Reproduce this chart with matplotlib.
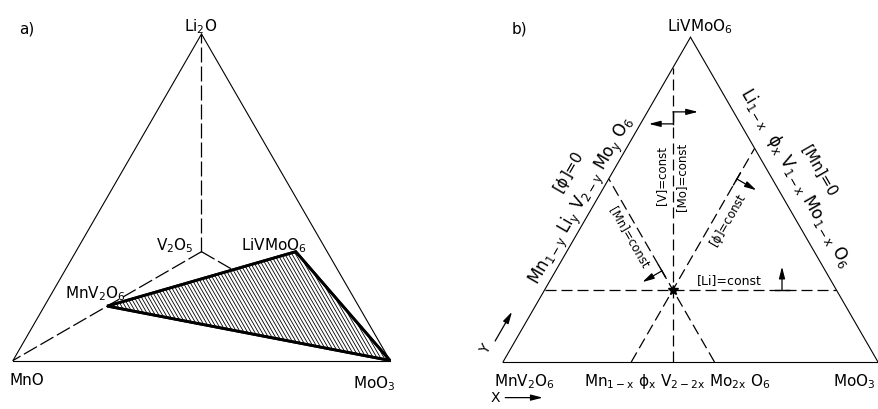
import numpy as np
import matplotlib
matplotlib.use('Agg')
import matplotlib.pyplot as plt
from matplotlib.patches import Polygon
from matplotlib.collections import LineCollection

plt.rcParams['font.family'] = 'DejaVu Sans'
plt.rcParams['mathtext.default'] = 'regular'

# ---- panel a: Li2O-MnO-MoO3-V2O5 tetrahedron seen from above ----
# projected corners, order [Li2O, MnO, MoO3, V2O5]; V2O5 is the back corner
corner_x = [0.5, 0.0, 1.0, 0.5]
corner_y = [np.sqrt(3) / 2, 0.0, 0.0, np.sqrt(3) / 6]

# compositions as mole fractions of [Li2O, MnO, MoO3, V2O5]
li2o = [1.0, 0.0, 0.0, 0.0]
mno = [0.0, 1.0, 0.0, 0.0]
moo3 = [0.0, 0.0, 1.0, 0.0]
v2o5 = [0.0, 0.0, 0.0, 1.0]
mnv2o6 = [0.0, 0.5, 0.0, 0.5]
livmoo6 = [0.25, 0.0, 0.5, 0.25]

# ---- panel b: MnV2O6-MoO3-LiVMoO6 section ----
# fractions [MnV2O6, MoO3, LiVMoO6] of the point where the const lines cross
point = [0.436, 0.342, 0.222]

LW_EDGE = 0.8
DASH_A = (0, (12, 3.2))
DASH_B = (0, (8.8, 4))
FS = 11


def proj(w):
    return np.dot(w, corner_x), np.dot(w, corner_y)


def tern(w):
    # w = [MnV2O6, MoO3, LiVMoO6]
    return w[1] + w[2] / 2, w[2] * np.sqrt(3) / 2


def seg(ax, p, q, **kw):
    ax.plot([p[0], q[0]], [p[1], q[1]], color='black', **kw)


def arrow(ax, start, d, length):
    end = (start[0] + d[0] * length, start[1] + d[1] * length)
    ax.annotate('', xy=end, xytext=start,
                arrowprops=dict(arrowstyle='-|>,head_length=0.7,head_width=0.18',
                                color='black', lw=0.9, shrinkA=0, shrinkB=0))


fig = plt.figure(figsize=(8.79, 4.10), dpi=100)

# panel a axes: 377 px per unit, MnO corner at pixel (13, 361.5)
ax_a = fig.add_axes([0, 0, 440 / 879, 1])
ax_a.set_xlim(-13 / 377, 427 / 377)
ax_a.set_ylim(-48.5 / 377, 361.5 / 377)
ax_a.axis('off')

# outer triangle
for p, q in [(mno, moo3), (moo3, li2o), (li2o, mno)]:
    seg(ax_a, proj(p), proj(q), lw=LW_EDGE)
# hidden edges to the back corner
for p in [li2o, mno, moo3]:
    seg(ax_a, proj(v2o5), proj(p), lw=0.9, linestyle=DASH_A, zorder=1)

# hatched phase triangle MnV2O6 - LiVMoO6 - MoO3
tri = np.array([proj(mnv2o6), proj(livmoo6), proj(moo3)])
poly = Polygon(tri, closed=True, facecolor='white', edgecolor='black',
               lw=2.0, joinstyle='miter', zorder=3)
ax_a.add_patch(poly)
shift = np.tan(np.radians(30))
hatch = [[(x0, 0.0), (x0 - shift * 0.4, 0.4)] for x0 in np.arange(0.2, 1.3, 0.0095)]
lc = LineCollection(hatch, colors='black', linewidths=0.6, zorder=4)
ax_a.add_collection(lc)
lc.set_clip_path(poly)
ax_a.add_patch(Polygon(tri, closed=True, fill=False, edgecolor='black',
                       lw=2.0, joinstyle='miter', zorder=5))

ax_a.text(0.037, 0.871, 'a)', fontsize=FS, ha='center', va='baseline')
ax_a.text(0.499, 0.877, 'Li$_2$O', fontsize=FS, ha='center', va='baseline')
ax_a.text(0.430, 0.296, 'V$_2$O$_5$', fontsize=FS, ha='center', va='baseline')
ax_a.text(0.692, 0.296, 'LiVMoO$_6$', fontsize=FS, ha='center', va='baseline')
ax_a.text(0.220, 0.168, 'MnV$_2$O$_6$', fontsize=FS, ha='center', va='baseline')
ax_a.text(0.037, -0.062, 'MnO', fontsize=FS, ha='center', va='baseline')
ax_a.text(0.959, -0.070, 'MoO$_3$', fontsize=FS, ha='center', va='baseline')

# panel b axes: 375 px per unit, MnV2O6 corner at pixel (503, 363)
ax_b = fig.add_axes([440 / 879, 0, 439 / 879, 1])
ax_b.set_xlim(-63 / 375, 376 / 375)
ax_b.set_ylim(-47 / 375, 363 / 375)
ax_b.axis('off')

A, B, C = [1, 0, 0], [0, 1, 0], [0, 0, 1]
for p, q in [(A, B), (B, C), (C, A)]:
    seg(ax_b, tern(p), tern(q), lw=LW_EDGE)

a0, b0, c0 = point
P = tern(point)
# [Li] = const
seg(ax_b, tern([1 - c0, 0, c0]), tern([0, 1 - c0, c0]), lw=0.9, linestyle=DASH_B)
# [Mn] = const (parallel to the MoO3-LiVMoO6 edge)
seg(ax_b, tern([a0, 1 - a0, 0]), tern([a0, 0, 1 - a0]), lw=0.9, linestyle=DASH_B)
# [phi] = const (parallel to the MnV2O6-LiVMoO6 edge)
seg(ax_b, tern([1 - b0, b0, 0]), tern([0, b0, 1 - b0]), lw=0.9, linestyle=DASH_B)
# [V] = const, [Mo] = const (vertical)
xv = P[0]
seg(ax_b, tern([1 - xv, xv, 0]), tern([1 - 2 * xv, 0, 2 * xv]), lw=0.9, linestyle=DASH_B)
ax_b.plot([P[0]], [P[1]], marker='*', ms=7, color='black')

r3 = np.sqrt(3)
up_l = (-0.5, r3 / 2)   # along MoO3-LiVMoO6 edge
up_r = (0.5, r3 / 2)    # along MnV2O6-LiVMoO6 edge
tb = 0.018

# arrow on [Li]=const
s = (0.744, P[1])
seg(ax_b, (s[0] - tb, s[1]), (s[0] + tb, s[1]), lw=1.0)
arrow(ax_b, s, (0, 1), 0.062)
# arrows on [V]/[Mo]=const
seg(ax_b, (xv, 0.635), (xv, 0.667), lw=1.0)
arrow(ax_b, (xv, 0.635), (-1, 0), 0.064)
arrow(ax_b, (xv, 0.667), (1, 0), 0.067)
# arrow on [phi]=const
y1 = 0.488
s = (b0 + y1 / r3, y1)
seg(ax_b, (s[0] - up_r[0] * tb, s[1] - up_r[1] * tb),
    (s[0] + up_r[0] * tb, s[1] + up_r[1] * tb), lw=1.0)
arrow(ax_b, s, (r3 / 2, -0.5), 0.06)
# arrow on [Mn]=const
y2 = 0.243
s = (1 - a0 - y2 / r3, y2)
seg(ax_b, (s[0] - up_l[0] * tb, s[1] - up_l[1] * tb),
    (s[0] + up_l[0] * tb, s[1] + up_l[1] * tb), lw=1.0)
arrow(ax_b, s, (-r3 / 2, -0.5), 0.06)

# axis direction arrows
arrow(ax_b, (-0.021, 0.056), up_r, 0.09)
ax_b.text(-0.045, 0.037, 'Y', fontsize=10, rotation=60, ha='center', va='center',
          rotation_mode='anchor')
arrow(ax_b, (0.006, -0.095), (1, 0), 0.1)
ax_b.text(-0.021, -0.093, 'X', fontsize=10, ha='center', va='center')

ax_b.text(0.045, 0.880, 'b)', fontsize=FS, ha='center', va='baseline')
ax_b.text(0.525, 0.885, 'LiVMoO$_6$', fontsize=FS, ha='center', va='baseline')
ax_b.text(0.056, -0.061, 'MnV$_2$O$_6$', fontsize=FS, ha='center', va='baseline')
ax_b.text(0.464, -0.061, r'Mn$_{1-x}$ $\phi_x$ V$_{2-2x}$ Mo$_{2x}$ O$_6$',
          fontsize=FS, ha='center', va='baseline')
ax_b.text(0.880, -0.061, 'MoO$_3$', fontsize=FS, ha='left', va='baseline')

rot = dict(ha='center', va='center', rotation_mode='anchor')
ax_b.text(0.176, 0.509, r'[$\phi$]=0', fontsize=FS, rotation=60, **rot)
ax_b.text(0.211, 0.432, 'Mn$_{1-y}$ Li$_y$ V$_{2-y}$ Mo$_y$ O$_6$',
          fontsize=FS + 1, rotation=60, **rot)
ax_b.text(0.779, 0.493, r'Li$_{1-x}$  $\phi_x$ V$_{1-x}$ Mo$_{1-x}$ O$_6$',
          fontsize=FS + 1, rotation=-60, **rot)
ax_b.text(0.843, 0.512, '[Mn]=0', fontsize=FS, rotation=-60, **rot)
ax_b.text(0.424, 0.501, '[V]=const', fontsize=8.5, rotation=90, **rot)
ax_b.text(0.477, 0.496, '[Mo]=const', fontsize=8.5, rotation=90, **rot)
ax_b.text(0.336, 0.335, '[Mn]=const', fontsize=8.5, rotation=-60, **rot)
ax_b.text(0.603, 0.379, r'[$\phi$]=const', fontsize=8.5, rotation=60, **rot)
ax_b.text(0.603, 0.219, '[Li]=const', fontsize=9, **rot)

fig.savefig('out.png', dpi=100)
